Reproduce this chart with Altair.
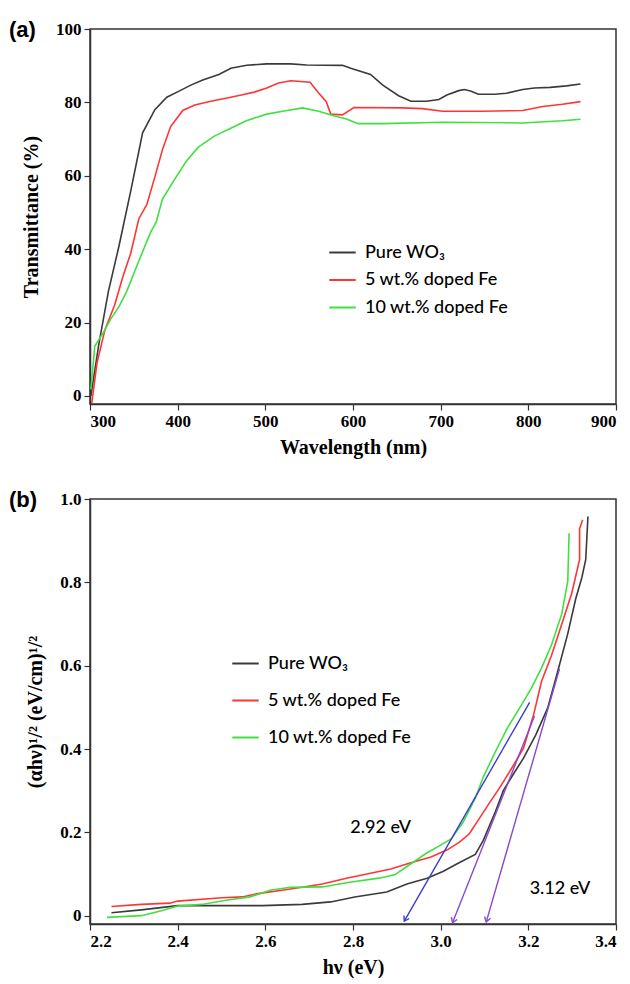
import math
import altair as alt
import pandas as pd

# ---------------- data: panel (a) transmittance ----------------
series_names = ["Pure WO₃", "5 wt.% doped Fe", "10 wt.% doped Fe"]
series_colors = ["#3a3a3a", "#ff3535", "#3fe03f"]

wl_pure = [301, 310, 321, 333, 346.5, 360, 374, 387.6, 401, 415, 428.6, 447, 460.6, 478.8, 501.6,
           529, 547, 588, 597.4, 620, 634, 652, 666, 684, 698, 707, 720.6, 727, 734, 743, 761.7,
           775, 793.6, 807, 825, 843.6, 859.5]
t_pure = [0, 14, 28.5, 40.8, 55.9, 71.7, 78, 81.4, 83, 84.7, 86.1, 87.6, 89.3, 90.1, 90.5,
          90.5, 90.2, 90.1, 89.3, 87.6, 84.7, 81.8, 80.3, 80.3, 80.8, 82, 83.2, 83.5, 83.1, 82.2, 82.2,
          82.5, 83.5, 83.9, 84.1, 84.5, 85]

wl_5 = [302, 308, 317, 328, 337.4, 346.5, 355.7, 364.8, 374, 383, 392, 405.8, 419.5, 437.8, 460.6,
        474, 487.4, 501.6, 515, 529, 551, 560.6, 569.5, 574.6, 588, 601, 656, 679, 702, 747.5,
        793.6, 816.4, 839, 859.5]
t_5 = [-2, 9, 18, 24.7, 32.4, 38.9, 48.3, 52.1, 59.7, 67.4, 73.4, 77.8, 79.3, 80.3, 81.4,
       82.1, 82.8, 83.9, 85.3, 85.9, 85.5, 82.6, 80.2, 76.8, 76.6, 78.6, 78.5, 78.3, 77.6, 77.6,
       77.8, 78.9, 79.5, 80.2]

wl_10 = [301, 305.5, 314.6, 323.7, 332.8, 341.9, 351, 360, 369, 375.6, 382.5, 396, 410, 423.6,
         441.8, 460, 478.3, 501.6, 519.8, 542.6, 560.8, 579, 592.5, 606, 634, 702, 793.6, 839, 859.5]
t_10 = [1.8, 13.6, 17, 21, 24.2, 28.5, 34, 39.3, 44.5, 47.4, 53.6, 58.8, 64, 67.8,
        70.8, 72.9, 75, 76.8, 77.6, 78.5, 77.6, 76.3, 75.5, 74.2, 74.2, 74.6, 74.4, 75, 75.4]

# ---------------- data: panel (b) Tauc plot ----------------
ev_pure = [2.249, 2.317, 2.4, 2.501, 2.593, 2.684, 2.749, 2.804, 2.877, 2.923, 2.969, 3.005, 3.042,
           3.079, 3.097, 3.125, 3.143, 3.166, 3.189, 3.217, 3.244, 3.267, 3.29, 3.308, 3.322,
           3.331, 3.336]
a_pure = [0.007, 0.014, 0.024, 0.024, 0.024, 0.027, 0.033, 0.045, 0.057, 0.076, 0.09, 0.106, 0.127,
          0.147, 0.18, 0.25, 0.30, 0.34, 0.378, 0.434, 0.498, 0.586, 0.677, 0.76, 0.811,
          0.855, 0.958]

ev_5 = [2.249, 2.317, 2.382, 2.4, 2.501, 2.547, 2.583, 2.638, 2.684, 2.73, 2.785, 2.84, 2.886,
        2.932, 2.978, 3.015, 3.042, 3.065, 3.088, 3.111, 3.134, 3.161, 3.189, 3.212, 3.23,
        3.253, 3.276, 3.299, 3.317, 3.317, 3.324]
a_5 = [0.022, 0.027, 0.030, 0.035, 0.043, 0.045, 0.053, 0.061, 0.068, 0.076, 0.09, 0.102, 0.112,
       0.127, 0.141, 0.158, 0.176, 0.196, 0.233, 0.27, 0.306, 0.352, 0.402, 0.482, 0.562,
       0.625, 0.699, 0.774, 0.855, 0.929, 0.95]

ev_10 = [2.239, 2.317, 2.363, 2.4, 2.455, 2.51, 2.565, 2.611, 2.657, 2.73, 2.785, 2.859, 2.895,
         2.923, 2.969, 2.996, 3.024, 3.051, 3.079, 3.097, 3.125, 3.152, 3.18, 3.207, 3.23,
         3.253, 3.276, 3.29, 3.293]
a_10 = [-0.004, 0.0, 0.012, 0.023, 0.027, 0.037, 0.045, 0.061, 0.068, 0.069, 0.079, 0.09, 0.098,
        0.118, 0.151, 0.167, 0.184, 0.224, 0.282, 0.332, 0.394, 0.45, 0.498, 0.546, 0.594,
        0.65, 0.723, 0.803, 0.918]

# tangent arrows (start -> tip)
arrow_x1 = [3.203, 3.214, 3.271]
arrow_y1 = [0.512, 0.479, 0.592]
arrow_x2 = [2.917, 3.027, 3.104]
arrow_y2 = [-0.013, -0.017, -0.015]
arrow_colors = ["#3b3bd8", "#8848d0", "#8848d0"]

ann_x = [2.863, 3.272]
ann_y = [0.211, 0.063]
ann_text = ["2.92 eV", "3.12 eV"]

x_ticks_a = [300, 400, 500, 600, 700, 800, 900]
y_ticks_a = [0, 20, 40, 60, 80, 100]
x_ticks_b = [2.2, 2.4, 2.6, 2.8, 3.0, 3.2, 3.4]
y_ticks_b = [0, 0.2, 0.4, 0.6, 0.8, 1.0]

# ---------------- layout constants ----------------
W = 526
HA = 375
HB = 425
XDOM_A = [300, 900]
YDOM_A = [-2.2, 100]
XDOM_B = [2.2, 3.4]
YDOM_B = [-0.02, 1.0]

SERIF = "Liberation Serif"
SANS = "Lato"


def long_df(xs_list, ys_list, xname, yname):
    rows = []
    for name, xs, ys in zip(series_names, xs_list, ys_list):
        for i, (x, y) in enumerate(zip(xs, ys)):
            rows.append({xname: x, yname: y, "series": name, "idx": i})
    return pd.DataFrame(rows)


df_a = long_df([wl_pure, wl_5, wl_10], [t_pure, t_5, t_10], "wl", "T")
df_b = long_df([ev_pure, ev_5, ev_10], [a_pure, a_5, a_10], "ev", "A")

color_scale = alt.Scale(domain=series_names, range=series_colors)


def legend(x, y, row_pad):
    return alt.Legend(
        orient="none", legendX=x, legendY=y, title=None,
        symbolType="stroke", symbolSize=700, symbolStrokeWidth=2,
        labelFont=SANS, labelFontSize=18, labelFontWeight=500, labelColor="black",
        labelOffset=8, rowPadding=row_pad, padding=0,
    )


def panel_label(txt):
    return alt.Chart(pd.DataFrame({"t": [txt]})).mark_text(
        align="left", baseline="middle", font="Liberation Sans",
        fontWeight="bold", fontSize=22, color="black",
    ).encode(text="t:N", x=alt.value(-81), y=alt.value(1))


# ---------------- panel (a) ----------------
lines_a = alt.Chart(df_a).mark_line(clip=True, strokeWidth=1.6).encode(
    x=alt.X("wl:Q", scale=alt.Scale(domain=XDOM_A, nice=False),
            axis=alt.Axis(values=x_ticks_a, title="Wavelength (nm)", format="d")),
    y=alt.Y("T:Q", scale=alt.Scale(domain=YDOM_A, nice=False, zero=False),
            axis=alt.Axis(values=y_ticks_a, title="Transmittance (%)", format="d")),
    color=alt.Color("series:N", scale=color_scale, legend=legend(238, 209, 3.5)),
    order="idx:Q",
)

chart_a = alt.layer(lines_a, panel_label("(a)")).properties(width=W, height=HA)

# ---------------- panel (b) ----------------
px_x = W / (XDOM_B[1] - XDOM_B[0])
px_y = HB / (YDOM_B[1] - YDOM_B[0])
arrow_angle = []
for x1, y1, x2, y2 in zip(arrow_x1, arrow_y1, arrow_x2, arrow_y2):
    dx = (x2 - x1) * px_x
    dy = -(y2 - y1) * px_y
    arrow_angle.append(math.degrees(math.atan2(dy, dx)) % 360)

df_arrow = pd.DataFrame({"x1": arrow_x1, "y1": arrow_y1, "x2": arrow_x2, "y2": arrow_y2,
                         "c": arrow_colors, "ang": arrow_angle})
df_ann = pd.DataFrame({"x": ann_x, "y": ann_y, "t": ann_text})

xb = alt.X("ev:Q", scale=alt.Scale(domain=XDOM_B, nice=False),
           axis=alt.Axis(values=x_ticks_b, title="hν (eV)", format=".1f"))
yb = alt.Y("A:Q", scale=alt.Scale(domain=YDOM_B, nice=False, zero=False),
           axis=alt.Axis(values=y_ticks_b, title="(αhν)¹/² (eV/cm)¹/²",
                         labelExpr="datum.value == 0 ? '0' : format(datum.value, '.1f')"))

lines_b = alt.Chart(df_b).mark_line(clip=True, strokeWidth=1.6).encode(
    x=xb, y=yb,
    color=alt.Color("series:N", scale=color_scale, legend=legend(141, 150, 13)),
    order="idx:Q",
)

shafts = alt.Chart(df_arrow).mark_rule(strokeWidth=1.4).encode(
    x=alt.X("x1:Q"), y=alt.Y("y1:Q"), x2="x2:Q", y2="y2:Q",
    stroke=alt.Stroke("c:N", scale=None),
)

heads = alt.Chart(df_arrow).mark_point(
    shape="M-1,-0.65 L0,0 L-1,0.65", filled=False, strokeWidth=1.4, size=90, opacity=1,
).encode(
    x=alt.X("x2:Q"), y=alt.Y("y2:Q"),
    stroke=alt.Stroke("c:N", scale=None),
    angle=alt.Angle("ang:Q", scale=None),
)

ann = alt.Chart(df_ann).mark_text(font=SANS, fontSize=18, fontWeight=500, color="black").encode(
    x=alt.X("x:Q"), y=alt.Y("y:Q"), text="t:N",
)

chart_b = alt.layer(lines_b, shafts, heads, ann, panel_label("(b)")).properties(width=W, height=HB)

chart = alt.vconcat(chart_a, chart_b, spacing=95, bounds="flush").resolve_scale(
    color="independent"
).resolve_legend(color="independent").properties(
    padding={"left": 0, "top": 10, "right": 0, "bottom": 0}
).configure_view(
    stroke="#333333", strokeWidth=1.5
).configure_axis(
    labelFont=SERIF, labelFontWeight="bold", labelFontSize=17, labelColor="black",
    titleFont=SERIF, titleFontWeight="bold", titleFontSize=20, titleColor="black",
    tickColor="#333333", tickSize=6, tickWidth=1.2, domainColor="#333333", domainWidth=1.5,
    labelPadding=3, grid=False,
).configure_axisY(
    titlePadding=14,
).configure_axisX(
    titlePadding=8,
)

chart.save("out.html", embed_options={"renderer": "svg", "actions": False})
